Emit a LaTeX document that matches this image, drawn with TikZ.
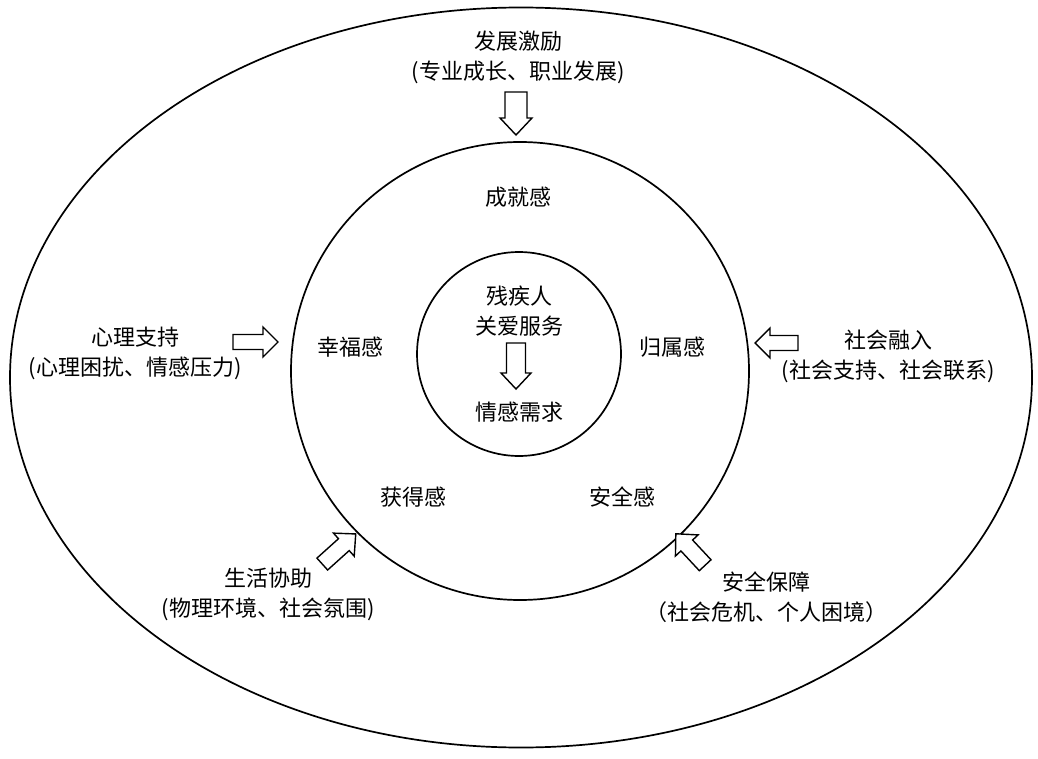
\documentclass[tikz,border=0pt]{standalone}
\usepackage{fontspec}
\setmainfont{Noto Sans CJK SC}
\newcommand\myhollowarrow[8]{%
  % #1 name, #2 x, #3 y, #4 angle, #5 length, #6 shaft width, #7 head width, #8 head length
  \coordinate (#1) at (#2,#3);
  \draw[arrowline, shift={(#1)}, rotate=#4]
    ({-#5/2},{-#6/2}) -- ({#5/2-#8},{-#6/2}) -- ({#5/2-#8},{-#7/2}) -- ({#5/2},0)
    -- ({#5/2-#8},{#7/2}) -- ({#5/2-#8},{#6/2}) -- ({-#5/2},{#6/2}) -- cycle;}
\begin{document}
\begin{tikzpicture}[x=1pt,y=-1pt,
  lbl/.style={font=\fontsize{22}{30}\selectfont, align=center, inner sep=0pt},
  ring/.style={draw, line width=1.7pt},
  arrowline/.style={draw, line width=1.4pt, line join=miter, fill=white}]
\useasboundingbox (0,0) rectangle (1038,759);
% rings
\draw[ring] (521,377.5) ellipse [x radius=511, y radius=370];
\draw[ring] (520,371) circle [radius=229];
\draw[ring] (519,354) circle [radius=102];
% centre
\node[lbl] (core) at (519,311) {残疾人\\关爱服务};
\myhollowarrow{coreArrow}{516}{366}{-90}{46}{19}{30}{16}
\node[lbl] (need) at (519,412) {情感需求};
% middle ring labels
\node[lbl] (cj) at (518,197) {成就感};
\node[lbl] (xf) at (350,347) {幸福感};
\node[lbl] (gs) at (672,347) {归属感};
\node[lbl] (hd) at (413,497) {获得感};
\node[lbl] (aq) at (622,497) {安全感};
% outer labels
\node[lbl] (fz) at (518,57) {发展激励\\(专业成长、职业发展)};
\node[lbl] (xl) at (135,353) {心理支持\\(心理困扰、情感压力)};
\node[lbl] (sh) at (888,356) {社会融入\\(社会支持、社会联系)};
\node[lbl] (sx) at (268,594) {生活协助\\(物理环境、社会氛围)};
\node[lbl] (bz) at (766,597) {安全保障\\（社会危机、个人困境）};
% outer arrows
\myhollowarrow{aTop}{516}{113.5}{-90}{43}{22}{32}{17}
\myhollowarrow{aLeft}{255.5}{342}{0}{45}{15}{30}{15}
\myhollowarrow{aRight}{776.5}{343}{180}{43}{15}{30}{15}
\myhollowarrow{aBL}{339}{549}{42}{45}{16}{31}{16}
\myhollowarrow{aBR}{690.5}{549.5}{133}{43}{16}{31}{16}
\end{tikzpicture}
\end{document}
